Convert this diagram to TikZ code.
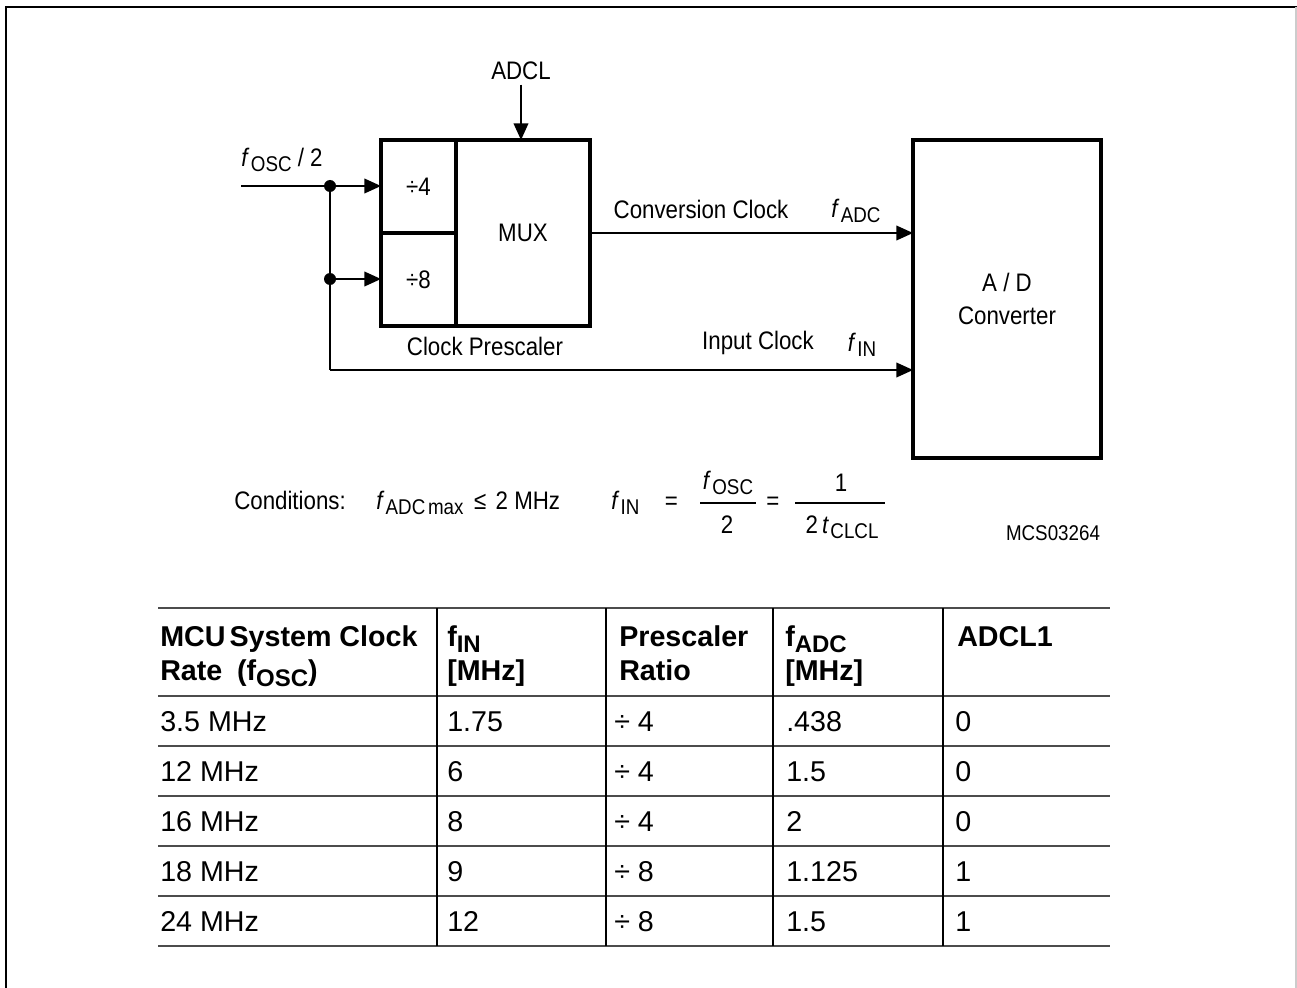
\documentclass[tikz,border=0pt]{standalone}
\usepackage{fontspec}
\setmainfont{Liberation Sans}
\newfontfamily\narrowfont[FakeStretch=0.88]{Liberation Sans}
\usetikzlibrary{arrows.meta,positioning}

% signal name with lowered index
\newcommand{\sig}[2]{\textit{#1}\kern1pt\raisebox{-4pt}{\fontsize{16}{16}\selectfont #2}}
\newcommand{\hsig}[2]{#1\raisebox{-5pt}{\fontsize{18}{18}\selectfont\bfseries #2}}

\tikzset{
    blk/.style={draw, line width=2.6pt, inner sep=0pt, outer sep=0pt},
    lbl/.style={font=\narrowfont\fontsize{19}{24.5}\selectfont},
    wire/.style={line width=1.3pt},
    arr/.style={wire, -{Triangle[length=12.5pt,width=11pt]}},
    dot/.style={circle, fill, inner sep=0pt, minimum size=9pt},
    cell/.style={font=\fontsize{21.5}{25}\selectfont, anchor=base west, inner sep=0pt},
    head/.style={cell, font=\bfseries\fontsize{21.5}{25}\selectfont},
    hrule/.style={line width=1.5pt, black!70},
    vrule/.style={line width=0.9pt},
}

\begin{document}
\begin{tikzpicture}[x=0.75pt, y=-0.75pt]
    \useasboundingbox (0,0) rectangle (1297,988);
    % page frame
    \draw[line width=2pt] (6,988) -- (6,7) -- (1297,7);
    \draw[black!20, line width=1pt] (1296,7) -- (1296,988);

    % prescaler and mux
    \node[blk, minimum width=56.25pt, minimum height=69.75pt, lbl] (div4) at (418.5,186.5) {÷4};
    \node[blk, minimum width=56.25pt, minimum height=69.75pt, lbl, below=0pt of div4] (div8) {÷8};
    \node[blk, minimum width=100.5pt, minimum height=139.5pt, lbl, anchor=north west] (mux) at (div4.north east) {MUX};
    \node[lbl] (pslbl) at (485,346) {Clock Prescaler};
    \node[lbl] (adcl) at (521,71) {ADCL};

    % converter
    \node[blk, minimum width=141pt, minimum height=238.5pt, lbl, align=center] (adc) at (1007,299) {A / D\\Converter};

    % input clock
    \node[lbl] (fosc) at (282,160) {\sig{f}{OSC} / 2};
    \coordinate (in) at (241,186);
    \node[dot] (j1) at (330,186) {};
    \node[dot] (j2) at (330,279) {};
    \coordinate (j3) at (330,370);

    \draw[wire] (in) -- (j1);
    \draw[arr] (j1) -- (div4.west |- j1);
    \draw[arr] (j2) -- (div8.west |- j2);
    \draw[wire] (j1) -- (j3);
    \draw[arr] (j3) -- (adc.west |- j3);
    \draw[arr] (mux.east) -- (adc.west |- mux.east);
    \draw[arr] (adcl.south) -- (adcl.south |- mux.north);

    \node[lbl] (cclk) at (701,209) {Conversion Clock};
    \node[lbl] (fadc) at (856,211) {\sig{f}{ADC}};
    \node[lbl] (iclk) at (758,343) {Input Clock};
    \node[lbl] (fin) at (862,345) {\sig{f}{IN}};

    % conditions
    \node[lbl, anchor=base west, inner sep=0pt] (cond) at (234,509) {Conditions:};
    \node[lbl, anchor=base west, inner sep=0pt] (cmax) at (376,509) {\sig{f}{ADC\hspace{2pt}max}\hspace{8pt}≤\hspace{7pt}2 MHz};
    \node[lbl, anchor=base west, inner sep=0pt] (cfin) at (611,509) {\sig{f}{IN}\hspace{19pt}=};
    \node[lbl, anchor=base, inner sep=0pt] (num1) at (728,489) {\sig{f}{OSC}};
    \node[lbl, anchor=base, inner sep=0pt] (den1) at (727,533) {2};
    \draw[wire] (700,503) -- (756,503);
    \node[lbl, anchor=base, inner sep=0pt] (eq2) at (773,509) {=};
    \node[lbl, anchor=base, inner sep=0pt] (num2) at (841,491) {1};
    \node[lbl, anchor=base, inner sep=0pt] (den2) at (842,533) {2\,\sig{t}{CLCL}};
    \draw[wire] (795,503) -- (885,503);
    \node[font=\narrowfont\fontsize{16}{16}\selectfont] (figid) at (1053,533) {MCS03264};

    % table
    \foreach \y in {608,696,746,796,846,896,946}
        \draw[hrule] (158,\y) -- (1110,\y);
    \foreach \x in {437,606,773,943}
        \draw[vrule] (\x,608) -- (\x,946);

    \node[head] (h1a) at (160,646) {MCU\hspace{3pt}System Clock};
    \node[head] (h1b) at (160,680) {Rate\hspace{11pt}(\hsig{f}{OSC})};
    \node[head] (h2a) at (447,646) {\hsig{f}{IN}};
    \node[head] (h2b) at (447,680) {[MHz]};
    \node[head] (h3a) at (619,646) {Prescaler};
    \node[head] (h3b) at (619,680) {Ratio};
    \node[head] (h4a) at (785,646) {\hsig{f}{ADC}};
    \node[head] (h4b) at (785,680) {[MHz]};
    \node[head] (h5a) at (957,646) {ADCL1};

    \foreach \y/\ca/\cb/\cc/\cd/\ce [count=\i] in {
        731/3.5 MHz/1.75/÷ 4/.438/0,
        781/12 MHz/6/÷ 4/1.5/0,
        831/16 MHz/8/÷ 4/2/0,
        881/18 MHz/9/÷ 8/1.125/1,
        931/24 MHz/12/÷ 8/1.5/1}
    {
        \node[cell] (r\i a) at (160,\y) {\ca};
        \node[cell] (r\i b) at (447,\y) {\cb};
        \node[cell] (r\i c) at (614,\y) {\cc};
        \node[cell] (r\i d) at (786,\y) {\cd};
        \node[cell] (r\i e) at (955,\y) {\ce};
    }
\end{tikzpicture}
\end{document}
